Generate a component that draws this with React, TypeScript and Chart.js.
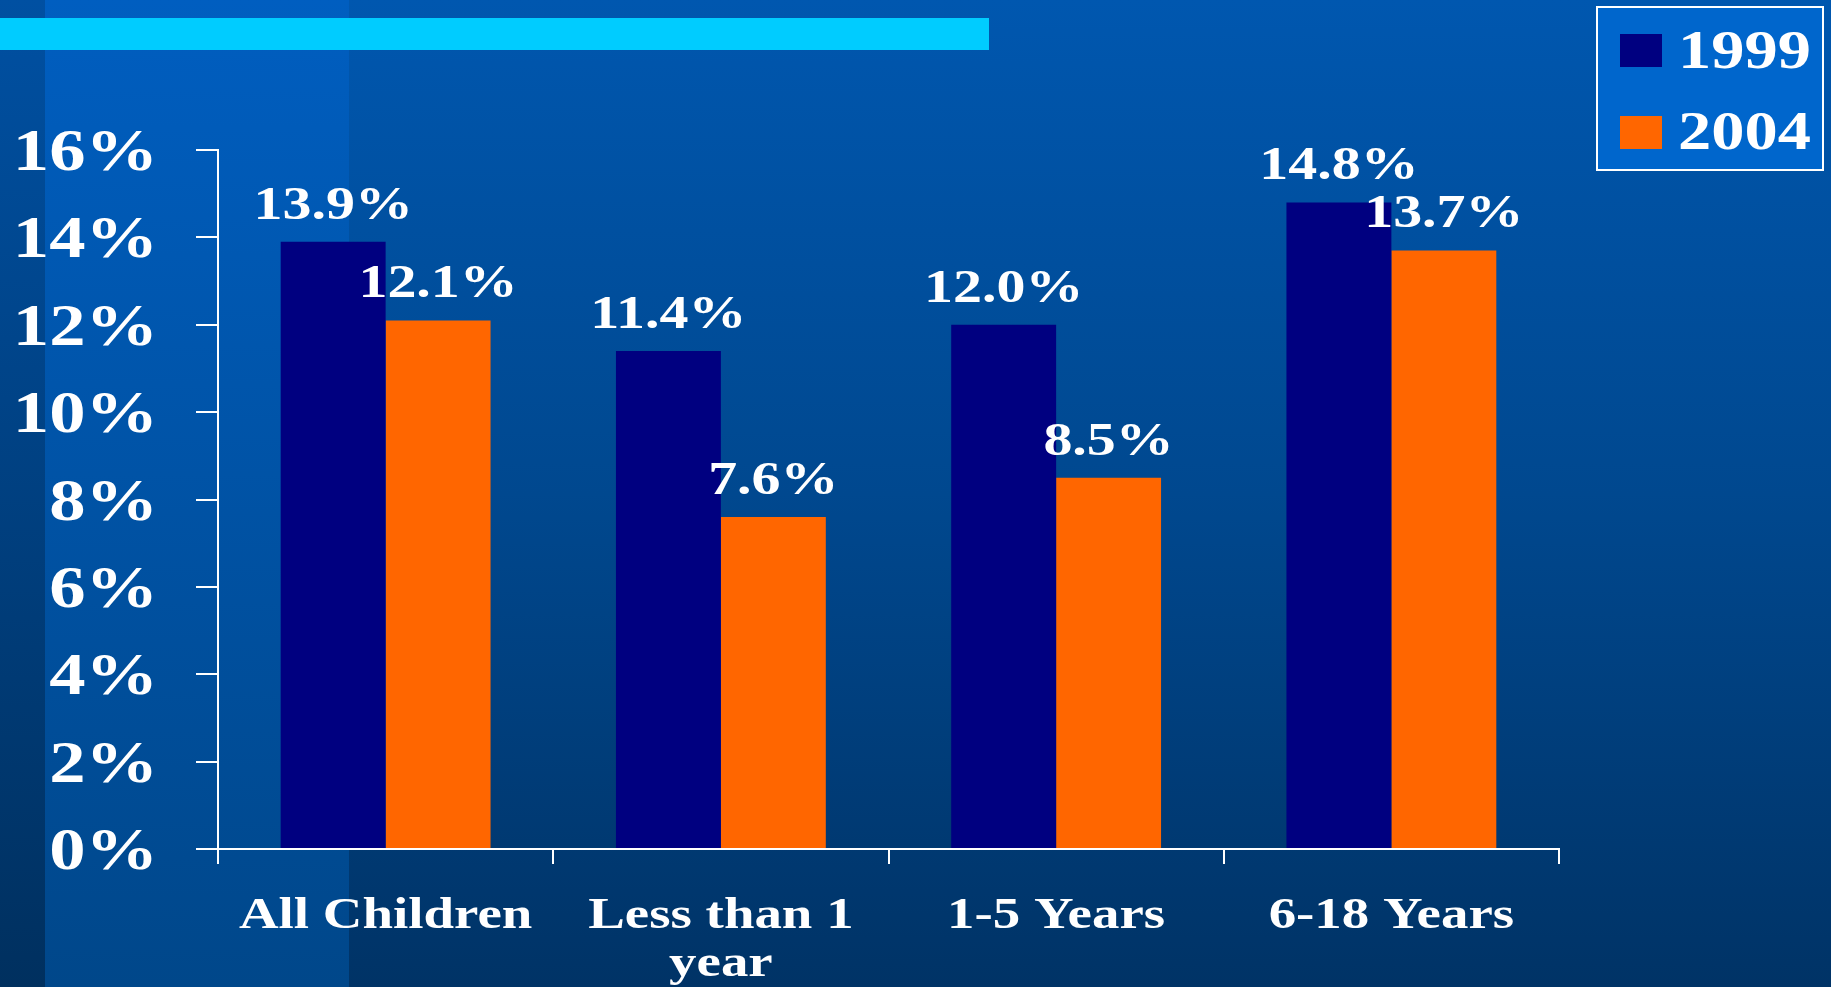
import React, { useEffect, useRef } from "react";
import { Chart, registerables } from "chart.js";

Chart.register(...registerables);

const categories: string[][] = [["All Children"], ["Less than 1", "year"], ["1-5 Years"], ["6-18 Years"]];
const seriesLabels = ["1999", "2004"];
const values1999 = [13.9, 11.4, 12.0, 14.8];
const values2004 = [12.1, 7.6, 8.5, 13.7];
const seriesColors = ["#000080", "#FF6600"];
const yMin = 0;
const yMax = 16;
const yStep = 2;

const FONT = '"Liberation Serif", "Times New Roman", serif';

function drawText(ctx: CanvasRenderingContext2D, text: string, x: number, y: number, align: CanvasTextAlign, size: number, sx: number) {
  ctx.save();
  ctx.translate(x, y);
  ctx.scale(sx, 1);
  ctx.font = `bold ${size}px ${FONT}`;
  ctx.fillStyle = "#FFFFFF";
  ctx.textAlign = align;
  ctx.textBaseline = "alphabetic";
  ctx.fillText(text, 0, 0);
  ctx.restore();
}

const backgroundPlugin = {
  id: "slideBackground",
  beforeDraw(chart: any) {
    const { ctx, width, height } = chart;
    ctx.save();
    const g = ctx.createLinearGradient(0, 0, 0, height);
    g.addColorStop(0, "#0057AF");
    g.addColorStop(0.5, "#00488F");
    g.addColorStop(1, "#003366");
    ctx.fillStyle = g;
    ctx.fillRect(0, 0, width, height);
    const g1 = ctx.createLinearGradient(0, 0, 0, height);
    g1.addColorStop(0, "#0050A2");
    g1.addColorStop(1, "#00305F");
    ctx.fillStyle = g1;
    ctx.fillRect(0, 0, 45, height);
    const g2 = ctx.createLinearGradient(0, 0, 0, height);
    g2.addColorStop(0, "#005EC0");
    g2.addColorStop(1, "#00478A");
    ctx.fillStyle = g2;
    ctx.fillRect(45, 0, 304, height);
    ctx.fillStyle = "#00CCFF";
    ctx.fillRect(0, 18, 989, 32);
    ctx.restore();
  },
};

const textPlugin = {
  id: "slideText",
  afterDraw(chart: any) {
    const { ctx } = chart;
    const yScale = chart.scales.y;
    const xScale = chart.scales.x;
    // y tick labels
    yScale.ticks.forEach((t: any) => {
      const y = yScale.getPixelForValue(t.value);
      drawText(ctx, `${t.value}%`, 158, y + 20, "right", 59, 1.23);
    });
    // category labels
    categories.forEach((lines, i) => {
      const x = xScale.getPixelForValue(i);
      lines.forEach((line, j) => {
        drawText(ctx, line, x, 928 + j * 48, "center", 45, 1.22);
      });
    });
    // value labels
    chart.data.datasets.forEach((ds: any, di: number) => {
      const meta = chart.getDatasetMeta(di);
      meta.data.forEach((bar: any, i: number) => {
        drawText(ctx, `${Number(ds.data[i]).toFixed(1)}%`, bar.x, bar.y - 23, "center", 46, 1.26);
      });
    });
    // legend
    ctx.save();
    ctx.fillStyle = "#0066CC";
    ctx.fillRect(1597, 7, 226, 163);
    ctx.strokeStyle = "#FFFFFF";
    ctx.lineWidth = 2;
    ctx.strokeRect(1597, 7, 226, 163);
    ctx.restore();
    chart.data.datasets.forEach((ds: any, di: number) => {
      const top = di === 0 ? 34 : 116;
      ctx.save();
      ctx.fillStyle = ds.backgroundColor;
      ctx.fillRect(1620, top, 42, 33);
      ctx.restore();
      drawText(ctx, ds.label, 1678, di === 0 ? 68 : 149, "left", 54, 1.23);
    });
  },
};

export default function App() {
  const canvasRef = useRef<HTMLCanvasElement | null>(null);

  useEffect(() => {
    if (!canvasRef.current) return;
    const chart = new Chart(canvasRef.current, {
      type: "bar",
      data: {
        labels: categories.map((c) => c.join(" ")),
        datasets: [
          { label: seriesLabels[0], data: values1999, backgroundColor: seriesColors[0], borderWidth: 0, categoryPercentage: 0.626, barPercentage: 1 },
          { label: seriesLabels[1], data: values2004, backgroundColor: seriesColors[1], borderWidth: 0, categoryPercentage: 0.626, barPercentage: 1 },
        ],
      },
      options: {
        animation: false,
        responsive: true,
        maintainAspectRatio: false,
        layout: { padding: { left: 196, right: 272, top: 150, bottom: 123 } },
        plugins: { legend: { display: false }, tooltip: { enabled: false }, title: { display: false } },
        scales: {
          x: {
            type: "category",
            offset: true,
            ticks: { display: false },
            grid: { offset: true, drawOnChartArea: false, drawTicks: true, tickLength: 15, color: "#FFFFFF", lineWidth: 2 },
            border: { display: true, color: "#FFFFFF", width: 2 },
          },
          y: {
            min: yMin,
            max: yMax,
            ticks: { display: false, stepSize: yStep },
            grid: { drawOnChartArea: false, drawTicks: true, tickLength: 22, color: "#FFFFFF", lineWidth: 2 },
            border: { display: true, color: "#FFFFFF", width: 2 },
          },
        },
      },
      plugins: [backgroundPlugin, textPlugin],
    });
    return () => chart.destroy();
  }, []);

  return (
    <div style={{ position: "fixed", left: 0, top: 0, width: "100vw", height: "100vh" }}>
      <canvas ref={canvasRef} />
    </div>
  );
}
